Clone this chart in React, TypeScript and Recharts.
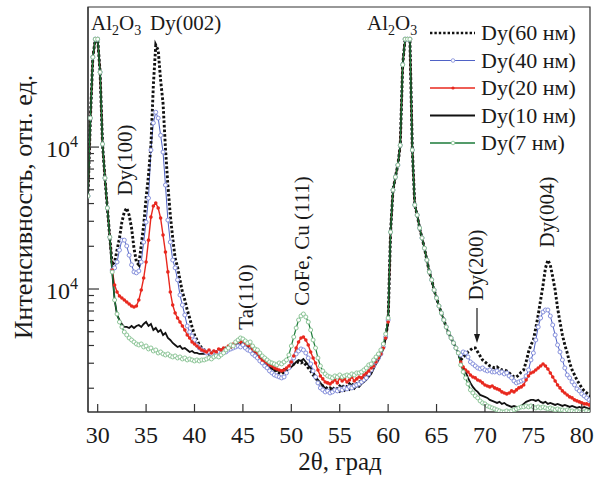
import React from 'react';
import { LineChart, Line, XAxis, YAxis, ReferenceArea, Legend } from 'recharts';

// 2θ sampling grid, 29.00 … 81.00 in 0.25° steps
const twoTheta = Array.from({ length: 209 }, (_, i) => 29 + i * 0.25);

// Al2O3 substrate reflections, the same for every sample
const al2o3Low = [45200, 160000, 430000, 576000, 576000, 337000, 105000, 60500, 37200, 23200]; // 29.00–31.25
const al2o3High = [
  25200, 49800, 61500, 74700, 103000, 380000, 576000, 576000, 576000, 95300,
  39100, 33200, 26900, 22900, 19400, 16000, 13200, 11600, 9839, 8643,
  7592, 6778, 6051, 5402, 4901, 4519, 4168, 3843, 3544,
]; // 60.25–67.25

const dy60 = [
  ...al2o3Low,
  14800, 15500, 18800, 22900, 29600, 34900, 37200, 33200, 26900, 19400,
  15500, 14800, 20400, 28200, 43700, 63500, 103000, 273000, 523000, 482000,
  296000, 204000, 98400, 54000, 33200, 22900, 16500, 14300, 11600, 9525,
  8367, 7115, 6250, 5402, 4745, 4375, 4035, 3843,
  3721, 3661, 3602, 3661, 3544, 3602, 3661, 3721, 3782, 3843, 3906, 3843,
  4035, 4101, 4168, 4101, 4236, 4035, 3906, 3782, 3661, 3544, 3376, 3268,
  3113, 3014, 2918, 2825, 2779, 2691, 2605, 2563, 2522, 2605, 2691, 2735,
  2871, 2966, 3014, 3063, 3014, 3063, 2918, 2779, 2648, 2481, 2364, 2251,
  2145, 2076, 2043, 1978, 2010, 1946, 2043, 1978, 2076, 2010, 2110, 2043,
  2145, 2076, 2180, 2145, 2215, 2251, 2364, 2441, 2563, 2691, 2871, 3063,
  3268, 3544, 3906, 4593, 5954,
  ...al2o3High,
  3164, 3322, 3431, 3602, 3721, 3843, 3843, 3602, 3376, 3164,
  3063, 2966, 2871, 2825, 2779, 2825, 2735, 2691, 2691, 2648,
  2563, 2481, 2402, 2402, 2481, 2605, 2691, 3063, 3602, 4035,
  4375, 5315, 6561, 8367, 10670, 14056, 16000, 14754, 12146, 9839,
  7350, 5858, 4745, 4035, 3544, 3014, 2691, 2481, 2288, 2145,
  2010, 1915, 1853, 1794, 1737,
];

const dy40 = [
  ...al2o3Low,
  13600, 14100, 15500, 18800, 22100, 22100, 20100, 17300, 14800, 13200,
  13000, 13400, 15500, 21400, 29600, 43700, 95300, 148000, 176000, 160000,
  121000, 92200, 54000, 30600, 21400, 16000, 14100, 11600, 9073, 7716,
  6561, 5490, 4981, 4668, 4375, 4035, 3843, 3721,
  3661, 3544, 3602, 3487, 3602, 3487, 3602, 3544, 3661, 3602, 3721, 3782,
  3843, 3906, 3970, 3906, 4035, 3843, 3721, 3661, 3487, 3376, 3268, 3113,
  3014, 2871, 2779, 2648, 2563, 2481, 2441, 2402, 2364, 2402, 2563, 2779,
  3063, 3268, 3487, 3661, 3782, 3721, 3544, 3268, 2966, 2648, 2402, 2180,
  2010, 1946, 1884, 1915, 1853, 1884, 1946, 1915, 1978, 1946, 2010, 1978,
  2043, 2010, 2076, 2110, 2145, 2215, 2288, 2364, 2522, 2691, 2871, 3063,
  3268, 3487, 3906, 4593, 6051,
  ...al2o3High,
  3431, 3602, 3544, 3322, 3063, 2966, 2871, 2779, 2735, 2779,
  2691, 2648, 2691, 2605, 2605, 2648, 2563, 2605, 2522, 2563,
  2441, 2364, 2251, 2180, 2215, 2251, 2288, 2441, 2691, 3164,
  3544, 4375, 5402, 6250, 6888, 7115, 7115, 6456, 5580, 4745,
  4035, 3602, 3164, 2779, 2481, 2364, 2215, 2110, 1978, 1915,
  1824, 1765, 1709, 1655, 1628,
];

const dy20 = [
  ...al2o3Low,
  13600, 10670, 9525, 8928, 8643, 8367, 8100, 7842, 7592, 7470,
  7592, 8367, 9839, 11951, 15500, 22100, 32100, 38400, 40300, 37200,
  31600, 24000, 18200, 13200, 9525, 7716, 6778, 6250, 5858, 5490,
  5145, 4745, 4519, 4236, 4101, 3970, 3843, 3721,
  3661, 3602, 3721, 3544, 3661, 3602, 3782, 3721, 3843, 3782, 3970, 3906,
  4101, 4168, 4305, 4236, 4375, 4168, 4035, 3970, 3782, 3661, 3544, 3322,
  3164, 3113, 3014, 2918, 2871, 2779, 2735, 2691, 2648, 2691, 2779, 2871,
  3063, 3376, 3843, 4236, 4519, 4593, 4375, 4035, 3602, 3268, 3014, 2691,
  2441, 2326, 2215, 2180, 2145, 2215, 2288, 2180, 2364, 2251, 2326, 2215,
  2288, 2402, 2251, 2326, 2402, 2364, 2481, 2563, 2648, 2779, 2871, 3063,
  3268, 3487, 3843, 4519, 5858,
  ...al2o3High,
  3063, 2825, 2691, 2605, 2481, 2402, 2364, 2288, 2251, 2180,
  2110, 2076, 2043, 2076, 2010, 1978, 1946, 1884, 1853, 1824,
  1853, 1915, 1884, 1946, 2010, 2043, 2110, 2288, 2441, 2563,
  2605, 2691, 2779, 2871, 2966, 2871, 2735, 2563, 2402, 2251,
  2110, 2010, 1915, 1853, 1794, 1737, 1709, 1655, 1628, 1602,
  1576, 1551, 1551, 1526, 1526,
];

const dy10 = [
  ...al2o3Low,
  13172, 8367, 6561, 6051, 5671, 5402, 5402, 5315, 5490, 5315,
  5490, 5580, 5402, 5671, 5858, 5490, 5671, 5145, 5315, 4981,
  5145, 4745, 4901, 4519, 4375, 4168, 4035, 3906, 3970, 3782,
  3843, 3721, 3602, 3661, 3544, 3544, 3487, 3487,
  3487, 3544, 3431, 3487, 3602, 3487, 3661, 3602, 3721, 3661, 3843, 3782,
  3906, 3970, 4101, 3970, 4168, 3906, 3843, 3721, 3602, 3431, 3322, 3216,
  3063, 2966, 2871, 2825, 2735, 2691, 2648, 2691, 2605, 2735, 2691, 2779,
  2825, 2918, 3063, 3164, 3113, 3216, 3063, 2918, 2779, 2605, 2441, 2288,
  2180, 2076, 2010, 1946, 1915, 1978, 1915, 1946, 1884, 1978, 1915, 2010,
  1946, 2043, 1978, 2076, 2043, 2145, 2215, 2288, 2402, 2522, 2735, 2966,
  3164, 3431, 3782, 4519, 5858,
  ...al2o3High,
  3063, 2779, 2605, 2364, 2180, 2043, 1946, 1884, 1794, 1765,
  1737, 1709, 1655, 1628, 1602, 1576, 1602, 1551, 1576, 1526,
  1501, 1477, 1501, 1477, 1453, 1501, 1551, 1602, 1628, 1655,
  1655, 1628, 1655, 1602, 1576, 1602, 1551, 1576, 1551, 1526,
  1551, 1526, 1501, 1526, 1501, 1477, 1501, 1477, 1453, 1477,
  1453, 1477, 1453, 1430, 1453,
];

const dy7 = [
  ...al2o3Low,
  13172, 8367, 6669, 5858, 5402, 4981, 4745, 4519, 4375, 4236,
  4101, 4035, 4101, 3906, 3970, 3782, 3843, 3661, 3721, 3544,
  3602, 3487, 3431, 3487, 3376, 3322, 3376, 3268, 3322, 3216,
  3268, 3164, 3216, 3164, 3113, 3164, 3113, 3164,
  3164, 3216, 3268, 3216, 3322, 3376, 3322, 3431, 3544, 3721, 3843, 4035,
  3970, 4236, 4375, 4519, 4447, 4305, 4168, 4236, 3970, 3782, 3721, 3544,
  3376, 3268, 3164, 3063, 3014, 2966, 2918, 3014, 2966, 3063, 3164, 3431,
  3970, 4593, 5315, 6051, 6456, 6669, 6352, 5858, 5145, 4375, 3843, 3268,
  2871, 2648, 2522, 2441, 2402, 2364, 2441, 2402, 2481, 2402, 2441, 2481,
  2441, 2522, 2481, 2563, 2563, 2605, 2691, 2779, 2918, 2966, 3164, 3322,
  3487, 3721, 4101, 4822, 6250,
  ...al2o3High,
  2918, 2605, 2364, 2145, 1946, 1853, 1765, 1709, 1628, 1576,
  1551, 1501, 1477, 1453, 1430, 1407, 1384, 1362, 1362, 1384,
  1362, 1384, 1407, 1430, 1453, 1477, 1477, 1501, 1477, 1501,
  1477, 1453, 1477, 1453, 1477, 1453, 1430, 1453, 1430, 1407,
  1430, 1407, 1407, 1384, 1407, 1384, 1384, 1362, 1384, 1362,
  1362, 1362, 1384, 1362, 1362,
];

const xTicks = [30, 35, 40, 45, 50, 55, 60, 65, 70, 75, 80];
const yMajor = [10000, 100000];
const yTicks = [
  2000, 3000, 4000, 5000, 6000, 7000, 8000, 9000, 10000,
  20000, 30000, 40000, 50000, 60000, 70000, 80000, 90000, 100000,
];

const data = twoTheta.map((x, i) => ({
  x,
  dy60: dy60[i],
  dy40: dy40[i],
  dy20: dy20[i],
  dy10: dy10[i],
  dy7: dy7[i],
}));

const FONT = "'Liberation Serif', 'Times New Roman', serif";
const INK = '#1a1a1a';

const legendItems = [
  { key: 'dy60', name: 'Dy(60 нм)' },
  { key: 'dy40', name: 'Dy(40 нм)' },
  { key: 'dy20', name: 'Dy(20 нм)' },
  { key: 'dy10', name: 'Dy(10 нм)' },
  { key: 'dy7', name: 'Dy(7 нм)' },
];

const LegendSwatch = ({ k, cy }: { k: string; cy: number }) => {
  if (k === 'dy60')
    return <line x1={4} x2={49} y1={cy} y2={cy} stroke="#111" strokeWidth={2.6} strokeDasharray="2.4 2" />;
  if (k === 'dy40')
    return (
      <g>
        <line x1={4} x2={49} y1={cy} y2={cy} stroke="#4f62c6" strokeWidth={1.2} />
        <circle cx={27} cy={cy} r={1.8} fill="#fff" stroke="#8d97de" strokeWidth={0.9} />
      </g>
    );
  if (k === 'dy20')
    return (
      <g>
        <line x1={4} x2={49} y1={cy} y2={cy} stroke="#e8281e" strokeWidth={1.3} />
        <circle cx={27} cy={cy} r={1.6} fill="#e8281e" />
      </g>
    );
  if (k === 'dy10') return <line x1={4} x2={49} y1={cy} y2={cy} stroke="#111" strokeWidth={2} />;
  return (
    <g>
      <line x1={4} x2={49} y1={cy} y2={cy} stroke="#1b7a38" strokeWidth={1.3} />
      <circle cx={27} cy={cy} r={1.8} fill="#fff" stroke="#8fc79a" strokeWidth={0.9} />
    </g>
  );
};

const LegendBox = () => (
  <svg width={170} height={145}>
    {legendItems.map((it, i) => {
      const cy = 15 + i * 27.5;
      return (
        <g key={it.key}>
          <LegendSwatch k={it.key} cy={cy} />
          <text x={55} y={cy + 7} fontSize={22} fontFamily={FONT} fill={INK}>
            {it.name}
          </text>
        </g>
      );
    })}
  </svg>
);

const XTick = (props: any) => {
  const { x, y, payload } = props;
  return (
    <g>
      <line x1={x} y1={y} x2={x} y2={y - 8} stroke="#333" strokeWidth={1.2} />
      <text x={x} y={y + 31} textAnchor="middle" fontSize={24} fontFamily={FONT} fill={INK}>
        {payload.value}
      </text>
    </g>
  );
};

const YTick = (props: any) => {
  const { x, y, payload } = props;
  const major = yMajor.includes(payload.value);
  return (
    <g>
      <line x1={x} y1={y} x2={x + (major ? 11 : 6)} y2={y} stroke="#333" strokeWidth={1.2} />
      {major && (
        <text x={x - 10} y={y + 10} textAnchor="end" fontSize={24} fontFamily={FONT} fill={INK}>
          10
          <tspan dy={-10} fontSize={16}>
            4
          </tspan>
        </text>
      )}
    </g>
  );
};

const Sub = ({ children }: { children: React.ReactNode }) => (
  <tspan fontSize={14} dy={5}>
    {children}
  </tspan>
);

const vText = (label: string, cx: number, cy: number) => (
  <text
    transform={`translate(${cx + 6},${cy}) rotate(-90)`}
    textAnchor="middle"
    fontSize={21}
    fontFamily={FONT}
    fill={INK}
  >
    {label}
  </text>
);

export default function App() {
  return (
    <div style={{ position: 'absolute', left: 0, top: 0, width: 595, height: 482, background: '#fff' }}>
      <LineChart width={595} height={482} data={data} margin={{ top: 7, right: 5, left: 28, bottom: 40 }}>
        <XAxis
          dataKey="x"
          type="number"
          domain={[29, 80.85]}
          allowDataOverflow
          ticks={xTicks}
          interval={0}
          tickSize={0}
          tickMargin={0}
          tickLine={false}
          tick={<XTick />}
          axisLine={{ stroke: '#333', strokeWidth: 1.2 }}
          height={30}
        />
        <YAxis
          type="number"
          scale="log"
          domain={[1360, 970000]}
          allowDataOverflow
          ticks={yTicks}
          interval={0}
          tickSize={0}
          tickMargin={0}
          tickLine={false}
          tick={<YTick />}
          axisLine={{ stroke: '#333', strokeWidth: 1.2 }}
          width={60}
        />
        <ReferenceArea x1={29} x2={80.85} y1={1360} y2={970000} fill="none" stroke="#333" strokeWidth={1.2} />
        <Line
          dataKey="dy40"
          stroke="#4f62c6"
          strokeWidth={1}
          dot={{ r: 2, fill: '#fff', stroke: '#8791dc', strokeWidth: 1 }}
          activeDot={false}
          isAnimationActive={false}
        />
        <Line
          dataKey="dy60"
          stroke="#111"
          strokeWidth={2.9}
          strokeDasharray="2.6 2"
          dot={false}
          activeDot={false}
          isAnimationActive={false}
        />
        <Line
          dataKey="dy20"
          stroke="#e8281e"
          strokeWidth={1.4}
          dot={{ r: 1.8, fill: '#e8281e', stroke: 'none' }}
          activeDot={false}
          isAnimationActive={false}
        />
        <Line
          dataKey="dy10"
          stroke="#111"
          strokeWidth={1.8}
          dot={false}
          activeDot={false}
          isAnimationActive={false}
        />
        <Line
          dataKey="dy7"
          stroke="#1b7a38"
          strokeWidth={1.2}
          dot={{ r: 2, fill: '#fff', stroke: '#8cc597', strokeWidth: 1 }}
          activeDot={false}
          isAnimationActive={false}
        />
        <Legend
          layout="vertical"
          align="center"
          verticalAlign="middle"
          content={<LegendBox />}
          wrapperStyle={{ left: 426, top: 18, width: 170, height: 145 }}
        />
      </LineChart>
      <svg
        width={595}
        height={482}
        style={{ position: 'absolute', left: 0, top: 0, pointerEvents: 'none' }}
      >
        <text transform="translate(32,207) rotate(-90)" textAnchor="middle" fontSize={26} fontFamily={FONT} fill={INK}>
          Интенсивность, отн. ед.
        </text>
        <text x={340} y={470} textAnchor="middle" fontSize={25} fontFamily={FONT} fill={INK}>
          2θ, град
        </text>
        <text x={91} y={30} fontSize={21} fontFamily={FONT} fill={INK}>
          Al<Sub>2</Sub>
          <tspan dy={-5}>O</tspan>
          <Sub>3</Sub>
        </text>
        <text x={150} y={30} fontSize={21} fontFamily={FONT} fill={INK}>
          Dy(002)
        </text>
        <text x={367} y={30} fontSize={21} fontFamily={FONT} fill={INK}>
          Al<Sub>2</Sub>
          <tspan dy={-5}>O</tspan>
          <Sub>3</Sub>
        </text>
        {vText('Dy(100)', 126, 160)}
        {vText('Ta(110)', 247, 297)}
        {vText('CoFe, Cu (111)', 303, 241)}
        {vText('Dy(200)', 477, 265)}
        {vText('Dy(004)', 548, 212)}
        <line x1={477} y1={308} x2={477} y2={336} stroke={INK} strokeWidth={1.2} />
        <polygon points="474,334 480,334 477,343" fill={INK} />
      </svg>
    </div>
  );
}
